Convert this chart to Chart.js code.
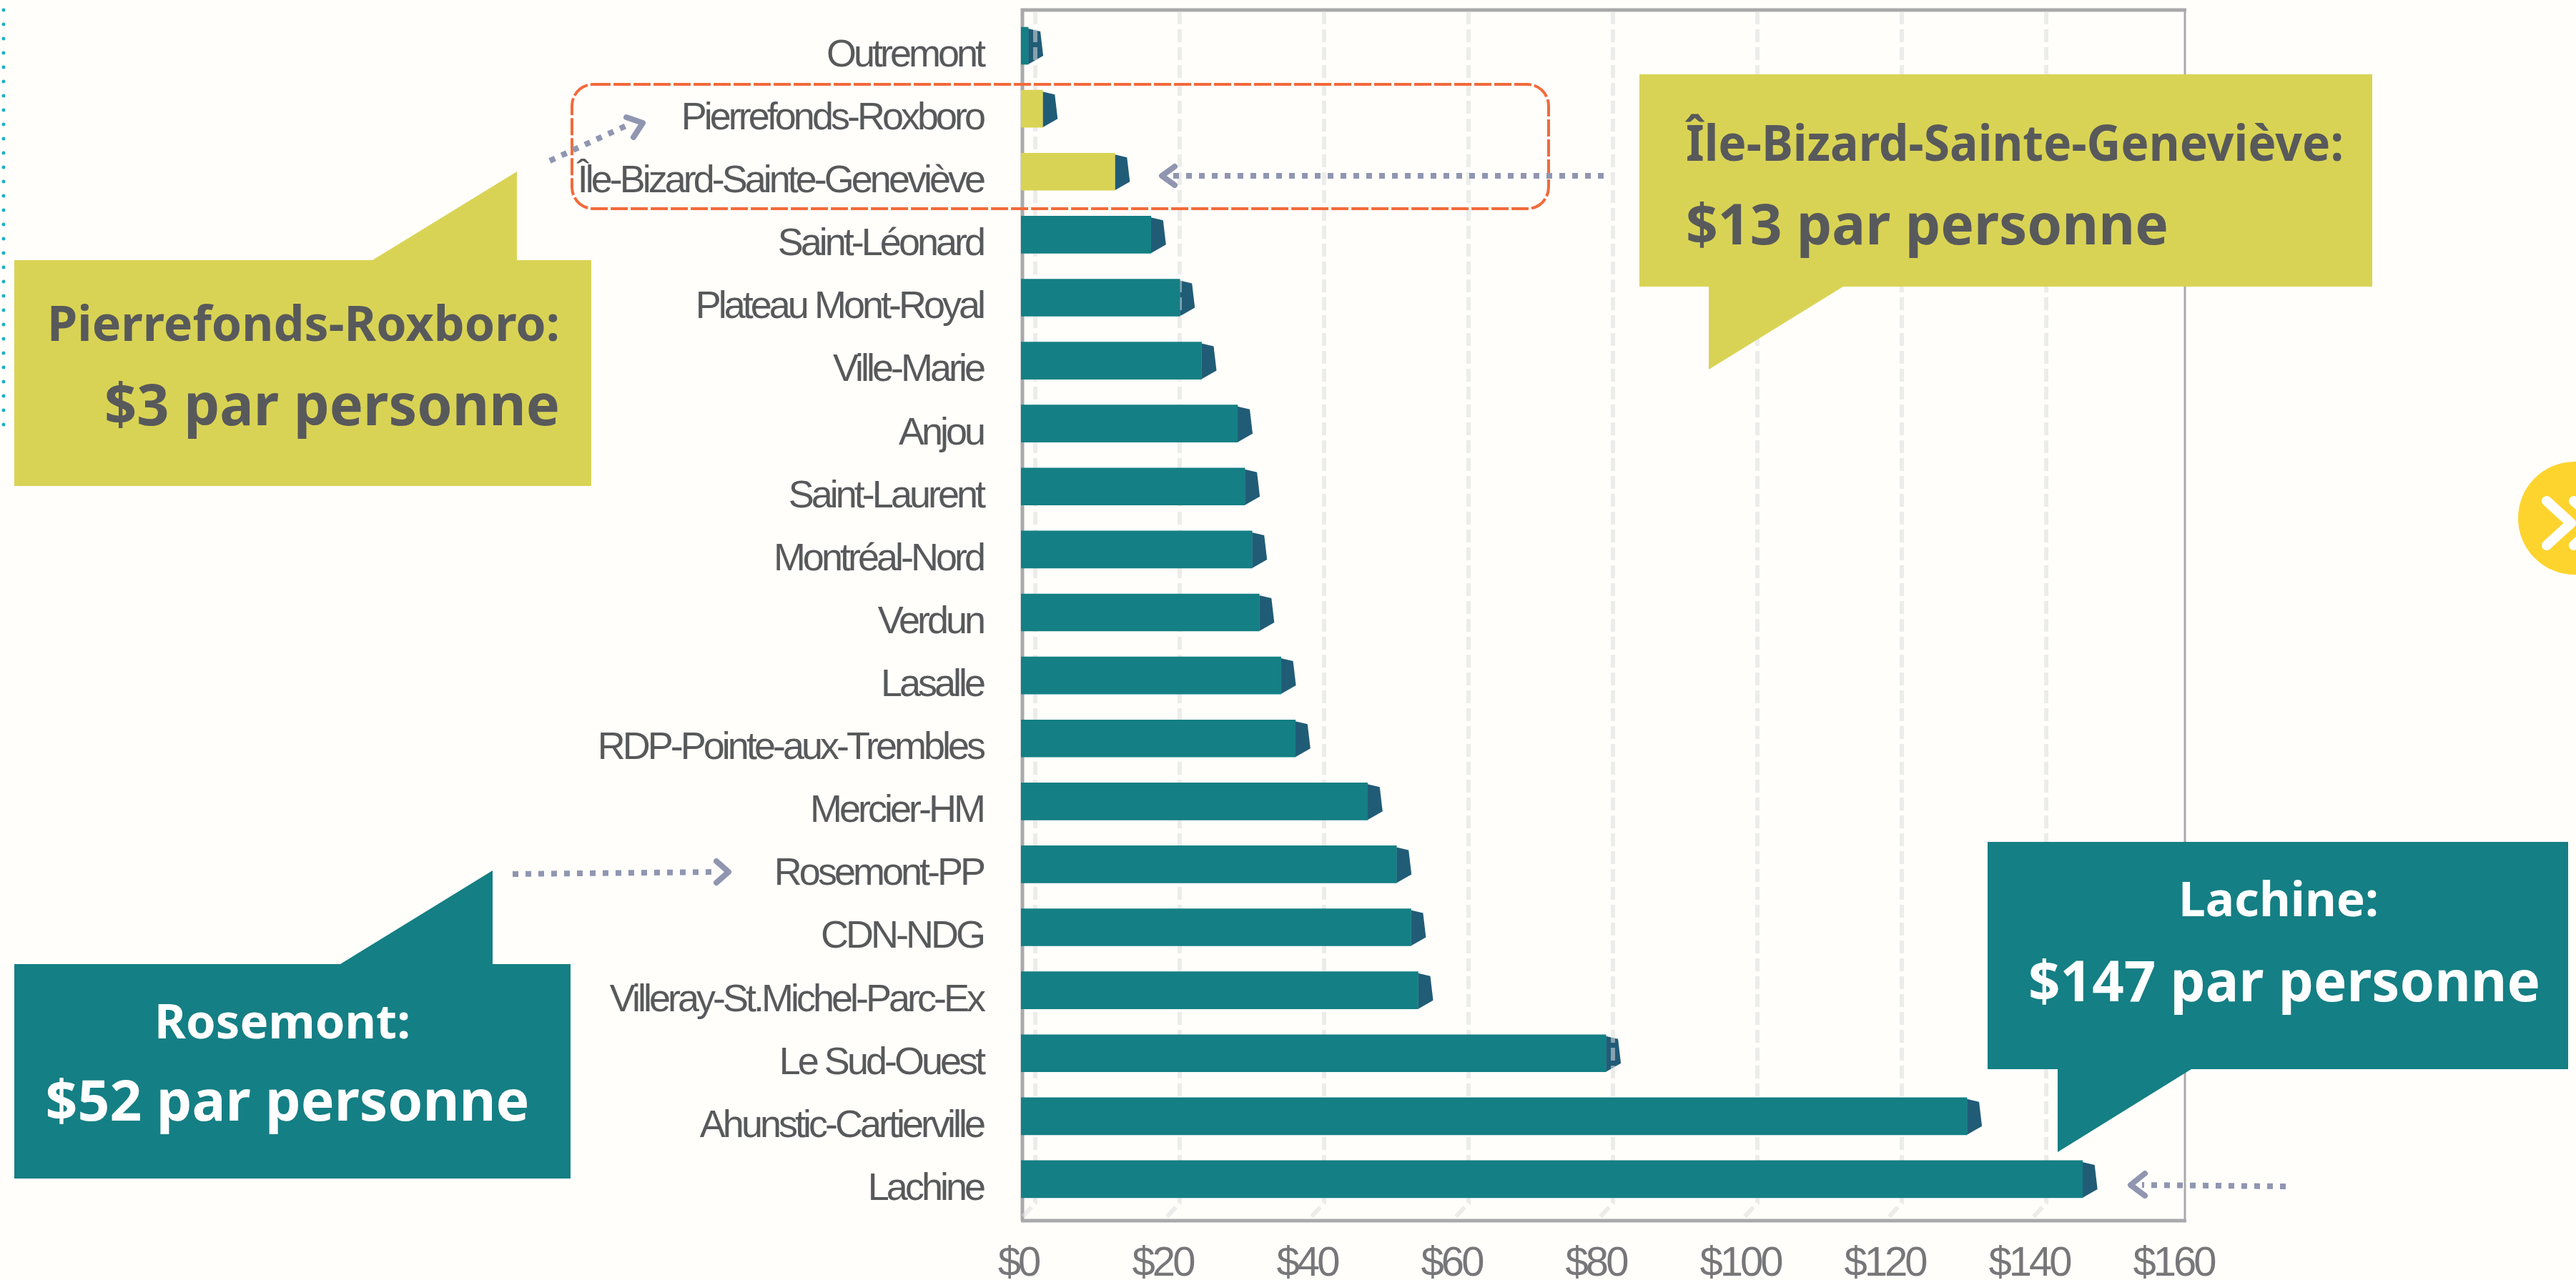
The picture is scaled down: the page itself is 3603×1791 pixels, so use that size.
<!DOCTYPE html>
<html lang="fr">
<head>
<meta charset="utf-8">
<title>Dépenses par personne</title>
<script src="https://cdn.jsdelivr.net/npm/chart.js@4"></script>
<style>
  html, body { margin: 0; padding: 0; background: #fffefb; }
  #wrap { position: relative; width: 3603px; height: 1791px; overflow: hidden; }
  canvas { position: absolute; left: 0; top: 0; }
  svg { position: absolute; left: 0; top: 0; }
  svg text { font-family: "Noto Sans", sans-serif; font-weight: 700; }
</style>
</head>
<body>
<div id="wrap">
  <canvas id="chart" width="3603" height="1791"></canvas>
  <svg width="3603" height="1791" viewBox="0 0 3603 1791">
    <!-- dotted line on the left edge -->
    <line x1="5" y1="14" x2="5" y2="612" stroke="#1fb0c8" stroke-width="5" stroke-linecap="round" stroke-dasharray="0 20"/>

    <!-- highlight box -->
    <rect x="800" y="118" width="1366" height="174" rx="30" fill="none" stroke="#f26a3a" stroke-width="4" stroke-dasharray="24 4"/>

    <!-- arrows -->
    <g fill="none" stroke="#9096b0" stroke-width="8">
      <path d="M2243 246H1640" stroke-dasharray="8 10"/>
      <path d="M769 225L880 174" stroke-dasharray="8 10"/>
      <path d="M717 1223L1005 1220" stroke-dasharray="8 10"/>
      <path d="M3197 1660L2996 1658" stroke-dasharray="8 10"/>
      <g stroke-linecap="round" stroke-linejoin="round">
        <path d="M1643 233L1625 246L1643 259"/>
        <path d="M876 164L899 172L886 192"/>
        <path d="M1002 1205L1019 1220L1002 1235"/>
        <path d="M3000 1642L2980 1658L3000 1673"/>
      </g>
    </g>

    <!-- callouts -->
    <path d="M20 364H521L723 240V364H827V680H20Z" fill="#d9d355"/>
    <text x="783" y="477" font-size="68" text-anchor="end" fill="#58595b" textLength="717" lengthAdjust="spacingAndGlyphs">Pierrefonds-Roxboro:</text>
    <text x="783" y="595" font-size="80" text-anchor="end" fill="#58595b" textLength="637" lengthAdjust="spacingAndGlyphs">$3 par personne</text>

    <path d="M2293 104H3318V401H2578L2390 517V401H2293Z" fill="#d9d355"/>
    <text x="2358" y="225" font-size="70" fill="#58595b" textLength="920" lengthAdjust="spacingAndGlyphs">Île-Bizard-Sainte-Geneviève:</text>
    <text x="2358" y="342" font-size="78" fill="#58595b" textLength="675" lengthAdjust="spacingAndGlyphs">$13 par personne</text>

    <path d="M20 1349H476L689 1218V1349H798V1649H20Z" fill="#147f84"/>
    <text x="395" y="1453" font-size="66" text-anchor="middle" fill="#ffffff" textLength="358" lengthAdjust="spacingAndGlyphs">Rosemont:</text>
    <text x="402" y="1568" font-size="78" text-anchor="middle" fill="#ffffff" textLength="677" lengthAdjust="spacingAndGlyphs">$52 par personne</text>

    <path d="M2780 1178H3592V1496H3065L2878 1612V1496H2780Z" fill="#147f84"/>
    <text x="3187" y="1282" font-size="66" text-anchor="middle" fill="#ffffff" textLength="280" lengthAdjust="spacingAndGlyphs">Lachine:</text>
    <text x="3195" y="1401" font-size="78" text-anchor="middle" fill="#ffffff" textLength="716" lengthAdjust="spacingAndGlyphs">$147 par personne</text>

    <!-- next button cut off by the right edge -->
    <circle cx="3601" cy="725" r="79" fill="#fdd42e"/>
    <g fill="none" stroke="#ffffff" stroke-width="14" stroke-linecap="round" stroke-linejoin="round">
      <path d="M3562 701L3596 732L3562 763"/>
      <path d="M3600 701L3634 732L3600 763"/>
    </g>
  </svg>
</div>

<script>
// Values, dollars per person
const categories = [
  "Outremont", "Pierrefonds-Roxboro", "Île-Bizard-Sainte-Geneviève", "Saint-Léonard",
  "Plateau Mont-Royal", "Ville-Marie", "Anjou", "Saint-Laurent", "Montréal-Nord",
  "Verdun", "Lasalle", "RDP-Pointe-aux-Trembles", "Mercier-HM", "Rosemont-PP",
  "CDN-NDG", "Villeray-St.Michel-Parc-Ex", "Le Sud-Ouest", "Ahunstic-Cartierville", "Lachine"
];
const costPerPerson = [1, 3, 13, 18, 22, 25, 30, 31, 32, 33, 36, 38, 48, 52, 54, 55, 81, 131, 147];
const highlighted = ["Pierrefonds-Roxboro", "Île-Bizard-Sainte-Geneviève"];
const xTickValues = [0, 20, 40, 60, 80, 100, 120, 140, 160];

const TEAL = "#147f84";
const YELLOW = "#d9d355";
const CAP = "#215c77";
const FRAME = "#a9a9ab";

// back wall sits a bit to the right of the front scale
const WALL_SHIFT = 20;

const fakeDepth = {
  id: "fakeDepth",
  beforeDraw(chart) {
    // tight letter spacing on the axis labels
    chart.ctx.letterSpacing = "-4px";

    // labels sit a little off the bar centres in the original
    if (!chart.$labelsMoved) {
      chart.scales.y.getLabelItems().forEach(item => { item.options.translation[1] += 14; });
      chart.scales.x.getLabelItems().forEach(item => { item.options.translation[0] -= 4; });
      chart.$labelsMoved = true;
    }
  },
  beforeDatasetsDraw(chart) {
    const { ctx, chartArea, scales } = chart;
    const left = chartArea.left, right = chartArea.right;
    const top = chartArea.top, bottom = chartArea.bottom;

    ctx.save();

    // frame
    ctx.strokeStyle = FRAME;
    ctx.lineWidth = 5;
    ctx.beginPath();
    ctx.moveTo(left + 2, bottom + 14);
    ctx.lineTo(left + 2, top - 6);
    ctx.lineTo(right + 14, top - 6);
    ctx.stroke();
    ctx.beginPath();
    ctx.moveTo(left, bottom + 14);
    ctx.lineTo(right + 14, bottom + 14);
    ctx.stroke();
    ctx.lineWidth = 3;
    ctx.beginPath();
    ctx.moveTo(right + 12, top - 8);
    ctx.lineTo(right + 12, bottom + 14);
    ctx.stroke();

    // end caps of the bars
    ctx.fillStyle = CAP;
    chart.getDatasetMeta(0).data.forEach(bar => {
      const t = bar.y - bar.height / 2;
      ctx.beginPath();
      ctx.moveTo(bar.x, t + 2);
      ctx.lineTo(bar.x + 17, t + 6);
      ctx.lineTo(bar.x + 21, t + 40);
      ctx.lineTo(bar.x, t + 52);
      ctx.closePath();
      ctx.fill();
    });

    // dashed wall lines, over the caps and under the bars
    ctx.strokeStyle = "rgba(220,220,220,0.55)";
    ctx.lineWidth = 6;
    ctx.setLineDash([18, 7]);
    xTickValues.slice(0, -1).forEach(v => {
      const x = scales.x.getPixelForValue(v) + WALL_SHIFT;
      ctx.beginPath();
      ctx.moveTo(x, top - 4);
      ctx.lineTo(x, bottom - 11);
      ctx.lineTo(x - WALL_SHIFT, bottom + 11);
      ctx.stroke();
    });

    ctx.restore();
  }
};

// the layout would otherwise reserve room for half of the first label
const clearPadding = scale => {
  scale.paddingTop = scale.paddingBottom = scale.paddingLeft = scale.paddingRight = 0;
};

new Chart(document.getElementById("chart"), {
  type: "bar",
  data: {
    labels: categories,
    datasets: [{
      data: costPerPerson,
      backgroundColor: categories.map(name => highlighted.includes(name) ? YELLOW : TEAL),
      barThickness: 52
    }]
  },
  options: {
    indexAxis: "y",
    responsive: false,
    animation: false,
    layout: { padding: { top: 20, right: 559, bottom: 0, left: 0 } },
    plugins: { legend: { display: false }, tooltip: { enabled: false } },
    scales: {
      x: {
        min: 0,
        max: 160,
        afterBuildTicks: scale => { scale.ticks = xTickValues.map(value => ({ value })); },
        afterFit: scale => { scale.height = 97; clearPadding(scale); },
        grid: { display: false, drawTicks: false },
        border: { display: false },
        ticks: {
          callback: v => "$" + v,
          color: "#77777a",
          padding: 40,
          maxRotation: 0,
          font: { family: "Liberation Sans", size: 58 }
        }
      },
      y: {
        afterFit: scale => { scale.width = 1428; clearPadding(scale); },
        grid: { display: false, drawTicks: false },
        border: { display: false },
        ticks: {
          autoSkip: false,
          color: "#58595b",
          padding: 53,
          font: { family: "Liberation Sans", size: 54 }
        }
      }
    }
  },
  plugins: [fakeDepth]
});
</script>
</body>
</html>
